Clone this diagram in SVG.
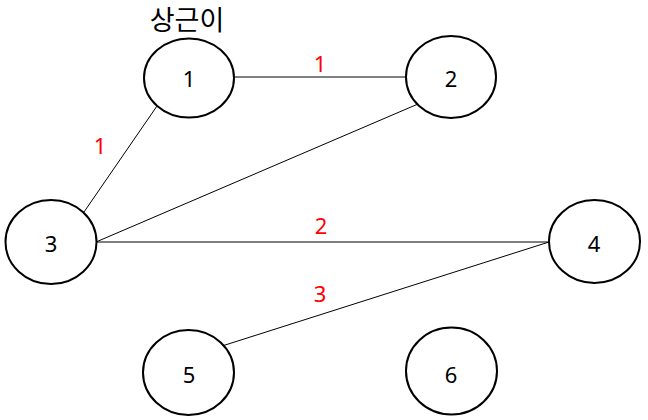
<svg xmlns="http://www.w3.org/2000/svg" width="648" height="420" viewBox="0 0 648 420">
<style>
.node ellipse{fill:#fff;stroke:#000;stroke-width:2}
.node text{font-family:"Noto Sans","Open Sans",sans-serif;font-size:22px;fill:#000;text-anchor:middle;dominant-baseline:central}
.edges line{stroke:#000;stroke-width:1}
.w{font-family:"Noto Sans","Open Sans",sans-serif;font-size:22px;fill:#ff0000;text-anchor:middle;dominant-baseline:central}
.title{font-family:"Noto Sans CJK KR","Noto Sans",sans-serif;font-size:27px;fill:#000;text-anchor:middle;dominant-baseline:central}
</style>
<rect width="648" height="420" fill="#fff"/>
<g class="edges">
<line x1="235" y1="77" x2="406" y2="77"/>
<line x1="157" y1="106" x2="84" y2="212"/>
<line x1="418" y1="104" x2="96" y2="242"/>
<line x1="96" y1="242" x2="549" y2="242"/>
<line x1="549" y1="242" x2="222" y2="346"/>
</g>
<g id="node1" class="node"><ellipse cx="189" cy="78" rx="45" ry="39.5"/><text x="189" y="78">1</text></g>
<g id="node2" class="node"><ellipse cx="451" cy="77" rx="45" ry="41"/><text x="451" y="78">2</text></g>
<g id="node3" class="node"><ellipse cx="51" cy="242" rx="45.5" ry="42"/><text x="51" y="243">3</text></g>
<g id="node4" class="node"><ellipse cx="594.5" cy="241.5" rx="45.5" ry="41.5"/><text x="594" y="243">4</text></g>
<g id="node5" class="node"><ellipse cx="188.5" cy="372.5" rx="45.5" ry="42.5"/><text x="189" y="374">5</text></g>
<g id="node6" class="node"><ellipse cx="451.5" cy="371" rx="45.5" ry="43.5"/><text x="451" y="374">6</text></g>
<g id="labels">
<text class="w" x="320" y="63">1</text>
<text class="w" x="100" y="145">1</text>
<text class="w" x="321" y="225">2</text>
<text class="w" x="320" y="293">3</text>
<text class="title" x="187" y="18">상근이</text>
</g>
</svg>
